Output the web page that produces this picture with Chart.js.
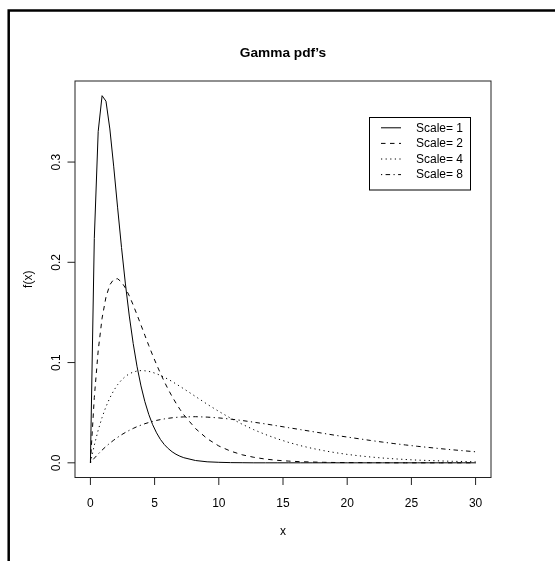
<!DOCTYPE html>
<html>
<head>
<meta charset="utf-8">
<title>Gamma pdf's</title>
<script src="https://cdn.jsdelivr.net/npm/chart.js@4.4.1/dist/chart.umd.min.js"></script>
<style>
  html, body { margin: 0; padding: 0; background: #fff; }
  canvas { display: block; }
</style>
</head>
<body>
<canvas id="gammaChart" width="555" height="561"></canvas>
<script>
// gamma densities (shape 2) evaluated on a shared x grid
const xs = [0, 0.303, 0.606, 0.909, 1.212, 1.515, 1.818, 2.121, 2.424, 2.727,
  3.030, 3.333, 3.636, 3.939, 4.242, 4.545, 4.848, 5.152, 5.455, 5.758,
  6.061, 6.364, 6.667, 6.970, 7.273, 8.182, 9.091, 10.000, 10.909, 11.818,
  12.727, 13.636, 14.545, 15.455, 16.364, 17.273, 18.182, 19.091, 20.000, 20.909,
  21.818, 22.727, 23.636, 24.545, 25.455, 26.364, 27.273, 28.182, 29.091, 30.000];

const scale1 = [0, 0.2238, 0.3306, 0.3662, 0.3607, 0.3330, 0.2952, 0.2543, 0.2147, 0.1784,
  0.1464, 0.1190, 0.0958, 0.0767, 0.0610, 0.0483, 0.0380, 0.0299, 0.0233, 0.0182,
  0.0142, 0.0110, 0.0085, 0.0066, 0.0051, 0.0023, 0.0010, 0.0005, 0.0002, 0.0001,
  0, 0, 0, 0, 0, 0, 0, 0, 0, 0,
  0, 0, 0, 0, 0, 0, 0, 0, 0, 0];

const scale2 = [0, 0.0651, 0.1119, 0.1443, 0.1653, 0.1776, 0.1831, 0.1836, 0.1803, 0.1744,
  0.1665, 0.1574, 0.1475, 0.1374, 0.1272, 0.1170, 0.1073, 0.0980, 0.0892, 0.0809,
  0.0732, 0.0661, 0.0595, 0.0534, 0.0479, 0.0342, 0.0241, 0.0168, 0.0117, 0.0080,
  0.0055, 0.0037, 0.0025, 0.0017, 0.0011, 0.0008, 0.0005, 0.0003, 0.0002, 0.0002,
  0.0001, 0.0001, 0, 0, 0, 0, 0, 0, 0, 0];

const scale4 = [0, 0.0176, 0.0326, 0.0453, 0.0560, 0.0648, 0.0721, 0.0780, 0.0826, 0.0862,
  0.0888, 0.0905, 0.0916, 0.0920, 0.0918, 0.0912, 0.0902, 0.0888, 0.0872, 0.0853,
  0.0833, 0.0811, 0.0787, 0.0763, 0.0738, 0.0662, 0.0585, 0.0513, 0.0446, 0.0385,
  0.0330, 0.0282, 0.0240, 0.0203, 0.0171, 0.0144, 0.0121, 0.0101, 0.0084, 0.0070,
  0.0058, 0.0048, 0.0040, 0.0033, 0.0027, 0.0023, 0.0019, 0.0015, 0.0013, 0.0010];

const scale8 = [0, 0.0046, 0.0088, 0.0127, 0.0163, 0.0196, 0.0226, 0.0254, 0.0280, 0.0303,
  0.0324, 0.0343, 0.0361, 0.0376, 0.0390, 0.0402, 0.0413, 0.0423, 0.0431, 0.0438,
  0.0444, 0.0449, 0.0453, 0.0456, 0.0458, 0.0460, 0.0456, 0.0448, 0.0436, 0.0422,
  0.0405, 0.0388, 0.0369, 0.0350, 0.0331, 0.0312, 0.0293, 0.0274, 0.0257, 0.0240,
  0.0223, 0.0207, 0.0192, 0.0178, 0.0165, 0.0153, 0.0141, 0.0130, 0.0120, 0.0110];

const seriesLabels = ['Scale= 1', 'Scale= 2', 'Scale= 4', 'Scale= 8'];
const xTicks = [0, 5, 10, 15, 20, 25, 30];
const yTicks = [0, 0.1, 0.2, 0.3];
const yTickLabels = ['0.0', '0.1', '0.2', '0.3'];

const FONT = '"Liberation Sans", Arial, Helvetica, sans-serif';
// solid, dashed, dotted, dot-dash
const dashes = [[], [4.5, 4.5], [1.2, 3.4], [1.2, 3.4, 4.5, 3.4]];

function toPoints(ys) {
    return ys.map((y, i) => ({ x: xs[i], y: y }));
}

// base-graphics style furniture: frame, box, ticks, labels, title and legend
const plotFurniture = {
    id: 'plotFurniture',
    afterDraw(chart) {
        const { ctx, chartArea: a, scales: { x, y } } = chart;
        ctx.save();

        // outer border
        ctx.strokeStyle = '#000';
        ctx.lineWidth = 2.5;
        ctx.beginPath();
        ctx.moveTo(8.7, 561);
        ctx.lineTo(8.7, 10.5);
        ctx.lineTo(555, 10.5);
        ctx.stroke();

        // plot box
        ctx.strokeStyle = '#222';
        ctx.lineWidth = 1;
        ctx.strokeRect(a.left, a.top, a.right - a.left, a.bottom - a.top);

        ctx.fillStyle = '#000';
        ctx.font = '12px ' + FONT;

        // x axis ticks and labels
        ctx.textAlign = 'center';
        ctx.textBaseline = 'alphabetic';
        xTicks.forEach(v => {
            const px = x.getPixelForValue(v);
            ctx.beginPath();
            ctx.moveTo(px, a.bottom);
            ctx.lineTo(px, a.bottom + 7.5);
            ctx.stroke();
            ctx.fillText(String(v), px, 507);
        });

        // y axis ticks and rotated labels
        yTicks.forEach((v, i) => {
            const py = y.getPixelForValue(v);
            ctx.beginPath();
            ctx.moveTo(a.left - 7.5, py);
            ctx.lineTo(a.left, py);
            ctx.stroke();
            ctx.save();
            ctx.translate(59.5, py);
            ctx.rotate(-Math.PI / 2);
            ctx.fillText(yTickLabels[i], 0, 0);
            ctx.restore();
        });

        // axis titles
        ctx.fillText('x', (a.left + a.right) / 2, 535);
        ctx.save();
        ctx.translate(32, (a.top + a.bottom) / 2);
        ctx.rotate(-Math.PI / 2);
        ctx.fillText('f(x)', 0, 0);
        ctx.restore();

        // main title
        ctx.font = 'bold 13.7px ' + FONT;
        ctx.fillText("Gamma pdf\u2019s", (a.left + a.right) / 2, 57);

        // legend box
        const lx = 369.5;
        const ly = 117.5;
        ctx.strokeStyle = '#000';
        ctx.lineWidth = 1;
        ctx.strokeRect(lx, ly, 101, 72.5);
        ctx.font = '12px ' + FONT;
        ctx.textAlign = 'left';
        ctx.textBaseline = 'middle';
        chart.data.datasets.forEach((ds, i) => {
            const ry = ly + 10.3 + i * 15.6;
            ctx.setLineDash(ds.borderDash);
            ctx.beginPath();
            ctx.moveTo(lx + 11.5, ry);
            ctx.lineTo(lx + 31.5, ry);
            ctx.stroke();
            ctx.setLineDash([]);
            ctx.fillText(ds.label, lx + 46.5, ry + 0.5);
        });

        ctx.restore();
    }
};

new Chart(document.getElementById('gammaChart'), {
    type: 'scatter',
    data: {
        datasets: [scale1, scale2, scale4, scale8].map((ys, i) => ({
            label: seriesLabels[i],
            data: toPoints(ys),
            showLine: true,
            borderColor: '#000',
            borderWidth: 1,
            borderDash: dashes[i],
            pointRadius: 0,
            fill: false
        }))
    },
    options: {
        responsive: false,
        animation: false,
        devicePixelRatio: 1,
        events: [],
        layout: { padding: { left: 75, top: 81, right: 64, bottom: 83.5 } },
        scales: {
            x: { type: 'linear', min: -1.2, max: 31.2, display: false },
            y: { type: 'linear', min: -0.01465, max: 0.38085, display: false }
        },
        plugins: {
            legend: { display: false },
            tooltip: { enabled: false }
        }
    },
    plugins: [plotFurniture]
});
</script>
</body>
</html>
